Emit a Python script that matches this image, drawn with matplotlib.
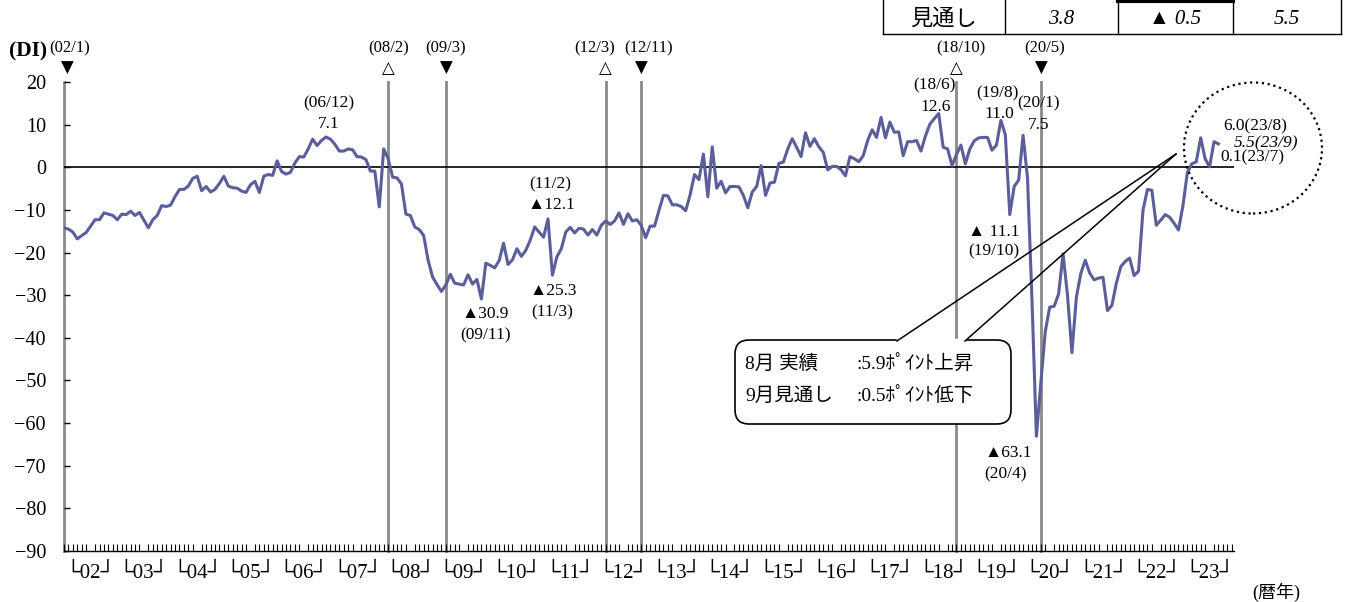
import numpy as np
import matplotlib.pyplot as plt
from matplotlib.patches import FancyBboxPatch, Ellipse
from matplotlib.lines import Line2D
from matplotlib.transforms import IdentityTransform

plt.rcParams['font.family'] = ['Liberation Serif', 'DejaVu Sans', 'Noto Sans CJK JP']

# 月次DI（2002年1月～2023年9月、23/9は見通し）
y2002 = [-14.2, -14.5, -15.2, -16.8, -16.0, -15.3, -13.8, -12.3, -12.3, -10.7, -11.0, -11.3]
y2003 = [-12.3, -11.0, -11.1, -10.3, -11.3, -10.6, -12.4, -14.2, -12.3, -11.3, -9.0, -9.2]
y2004 = [-8.9, -6.9, -5.2, -5.2, -4.4, -2.6, -2.1, -5.5, -4.5, -5.8, -5.2, -3.8]
y2005 = [-2.1, -4.4, -4.8, -4.9, -5.6, -5.9, -4.1, -3.3, -5.9, -2.1, -1.7, -1.9]
y2006 = [1.5, -1.0, -1.6, -1.2, 1.0, 2.5, 2.4, 4.3, 6.6, 5.1, 6.3, 7.1]
y2007 = [6.6, 5.4, 3.8, 3.8, 4.3, 4.1, 2.5, 2.4, 1.8, -0.9, -0.9, -9.3]
y2008 = [4.3, 2.0, -2.3, -2.5, -3.9, -11.0, -11.3, -14.0, -14.6, -16.0, -21.8, -25.7]
y2009 = [-27.5, -29.1, -27.6, -25.1, -27.2, -27.4, -27.6, -25.2, -27.4, -26.3, -30.9, -22.5]
y2010 = [-23.0, -23.6, -21.9, -17.8, -22.8, -21.7, -19.1, -20.9, -19.5, -17.1, -14.0, -15.2]
y2011 = [-16.4, -12.1, -25.3, -21.0, -19.1, -15.2, -14.1, -15.4, -14.3, -14.5, -15.9, -14.6]
y2012 = [-15.9, -13.6, -12.6, -13.4, -12.6, -10.7, -13.4, -10.9, -12.6, -12.3, -13.6, -16.5]
y2013 = [-13.8, -13.8, -10.1, -6.6, -6.7, -8.8, -8.8, -9.2, -10.2, -6.5, -1.7, -2.9]
y2014 = [3.1, -6.9, 4.8, -4.9, -3.3, -6.0, -4.5, -4.5, -4.6, -6.6, -9.5, -5.8]
y2015 = [-4.5, 0.4, -6.6, -3.7, -3.5, 0.9, 1.2, 4.3, 6.7, 4.7, 2.5, 8.1]
y2016 = [4.9, 6.7, 4.8, 3.5, -0.6, 0.2, 0.2, -0.6, -2.0, 2.5, 2.0, 1.3]
y2017 = [2.7, 6.3, 8.8, 7.0, 11.7, 6.9, 10.6, 8.2, 8.3, 2.7, 6.0, 6.0]
y2018 = [6.3, 3.8, 7.3, 10.1, 11.4, 12.6, 4.7, 4.3, 0.4, 3.0, 5.2, 0.8]
y2019 = [4.3, 6.2, 6.9, 7.0, 7.0, 4.0, 5.2, 11.0, 7.6, -11.1, -4.5, -3.0]
y2020 = [7.5, -2.6, -31.0, -63.1, -50.5, -38.5, -32.8, -32.6, -29.7, -20.3, -30.0, -43.5]
y2021 = [-30.5, -24.9, -21.8, -24.8, -26.4, -26.0, -25.8, -33.6, -32.4, -27.2, -23.3, -22.1]
y2022 = [-21.3, -25.4, -24.4, -10.1, -5.2, -5.4, -13.6, -12.4, -11.1, -11.7, -13.1, -14.7]
y2023 = [-9.0, -1.2, 0.8, 1.3, 6.9, 2.0, 0.1, 6.0, 5.5]

di = np.array(y2002 + y2003 + y2004 + y2005 + y2006 + y2007 + y2008 + y2009
              + y2010 + y2011 + y2012 + y2013 + y2014 + y2015 + y2016 + y2017
              + y2018 + y2019 + y2020 + y2021 + y2022 + y2023)
months = np.arange(len(di))

years = list(range(2002, 2024))
year_labels = ['└%02d┘' % (y % 100) for y in years]

# 景気の山（△）・谷（▼）
turn_months = [0, 73, 86, 122, 130, 201, 220]
turn_marks = ['▼', '△', '▼', '△', '▼', '△', '▼']

# 見通し表
table_cells = ['見通し', '3.8', '▲ 0.5', '5.5']


def ym(m):
    return '(%02d/%d)' % ((2002 + m // 12) % 100, m % 12 + 1)


def val(v, sp=''):
    return ('▲' + sp + '%.1f' % abs(v)) if v < 0 else '%.1f' % v


W, H = 1346, 602
fig = plt.figure(figsize=(W / 100, H / 100), dpi=100)
ax = fig.add_axes([64 / W, 1 - 551 / H, 1170 / W, 469 / H])

ax.set_xlim(0, 263.5)
ax.set_ylim(-90, 20)

for m in turn_months:
    ax.axvline(m, color='#8a8a8a', lw=2.0, zorder=1, clip_on=False)
ax.axhline(0, color='black', lw=1.2, zorder=2)
ax.plot(months, di, color='#5b5e9b', lw=2.2, zorder=3)

for s in ['left', 'top', 'right']:
    ax.spines[s].set_visible(False)
ax.spines['bottom'].set_linewidth(1.0)

ax.set_yticks(np.arange(-90, 21, 10))
ax.tick_params(axis='y', direction='in', length=4, width=1, labelsize=14.5, pad=13)
ax.set_xticks(np.arange(len(years)) * 12 + 6, year_labels)
ax.set_xticks(np.arange(0, 264), minor=True)
ax.tick_params(axis='x', which='major', length=0, labelsize=15, pad=9)
ax.tick_params(axis='x', which='minor', direction='in', length=5, width=0.8)

# 山・谷の表示
lab_dx = [6, 0, 0, -11, 7, 4, 4]
for m, mk, dx in zip(turn_months, turn_marks, lab_dx):
    ax.annotate(mk, (m, 20), xytext=(3 if m == 0 else 0, 14), textcoords='offset pixels',
                ha='center', va='center', fontsize=12, family='DejaVu Sans', annotation_clip=False)
    ax.annotate(ym(m), (m, 20), xytext=(dx, 34), textcoords='offset pixels',
                ha='center', va='center', fontsize=12, annotation_clip=False)

# ピーク・ボトムの注記: (月, 日付のずれ, 値のずれ, 値の前後)
notes = [(59, (3, 34), (3, 13), ''),
         (109, (2, 34), (3, 14), ''),
         (94, (4, -36), (4, -15), ''),
         (110, (0, -37), (1, -16), ''),
         (197, (-4, 28), (-3, 7), ''),
         (211, (-3, 27), (-2, 6), ''),
         (216, (15, 32), (16, 10), ''),
         (213, (-16, -37), (-16, -17), ' '),
         (219, (-31, -38), (-28, -17), '')]
for m, dd, dv, sp in notes:
    ax.annotate(ym(m), (m, di[m]), xytext=dd, textcoords='offset pixels',
                ha='center', va='center', fontsize=12.5)
    ax.annotate(val(di[m], sp), (m, di[m]), xytext=dv, textcoords='offset pixels',
                ha='center', va='center', fontsize=12.5)

# 直近3か月
ax.annotate(val(di[259]) + ym(259), (259, di[259]), xytext=(9, 15), textcoords='offset pixels',
            ha='left', va='center', fontsize=12.5)
ax.annotate(val(di[260]) + ym(260), (260, di[260]), xytext=(15, 0), textcoords='offset pixels',
            ha='left', va='center', fontsize=12.5, style='italic')
ax.annotate(val(di[258]) + ym(258), (258, di[258]), xytext=(11, 9), textcoords='offset pixels',
            ha='left', va='center', fontsize=12.5)

pix = IdentityTransform()
fig.add_artist(Ellipse((1253, H - 148), 138, 131, transform=pix, fill=False,
                       ec='black', lw=1.6, ls=':', zorder=6))

# 吹き出し
fig.add_artist(FancyBboxPatch((735, H - 424), 276, 84, boxstyle='round,pad=0,rounding_size=14',
                              transform=pix, fc='white', ec='black', lw=1.2, zorder=5))
fig.add_artist(Line2D([898, 964], [H - 340, H - 340], transform=pix, color='white', lw=2.5, zorder=6))
fig.add_artist(Line2D([897, 1176], [H - 341, H - 154], transform=pix, color='black', lw=1.1, zorder=7))
fig.add_artist(Line2D([965, 1176], [H - 341, H - 154], transform=pix, color='black', lw=1.1, zorder=7))
chg8 = di[259] - di[258]
chg9 = di[259] - di[260]
fig.text(745 / W, 1 - 364 / H, '8月 実績', fontsize=14, va='center', zorder=8)
fig.text(745 / W, 1 - 396 / H, '9月見通し', fontsize=14, va='center', zorder=8)
fig.text(856 / W, 1 - 364 / H, ':%.1fﾎﾟｲﾝﾄ上昇' % chg8, fontsize=14, va='center', zorder=8)
fig.text(856 / W, 1 - 396 / H, ':%.1fﾎﾟｲﾝﾄ低下' % chg9, fontsize=14, va='center', zorder=8)

# 見通し表（上部）
col_x = [883, 1005, 1118, 1233, 1341]
for x in col_x:
    fig.add_artist(Line2D([x, x], [H, H - 34], transform=pix, color='black', lw=1.0))
fig.add_artist(Line2D([883, 1341], [H - 34, H - 34], transform=pix, color='black', lw=1.0))
fig.add_artist(Line2D([1118, 1233], [H - 1, H - 1], transform=pix, color='black', lw=3.0))
for i, t in enumerate(table_cells):
    cx = (col_x[i] + col_x[i + 1]) / 2
    fig.text(cx / W, 1 - 19 / H, t, fontsize=16 if i == 0 else 15, ha='center', va='center',
             style='normal' if i == 0 else 'italic')

fig.text(28 / W, 1 - 51 / H, '(DI)', fontsize=15.5, ha='center', va='center', weight='bold')
fig.text(1276 / W, 1 - 592 / H, '(暦年)', fontsize=13, ha='center', va='center')

fig.savefig('out.png', dpi=100)
